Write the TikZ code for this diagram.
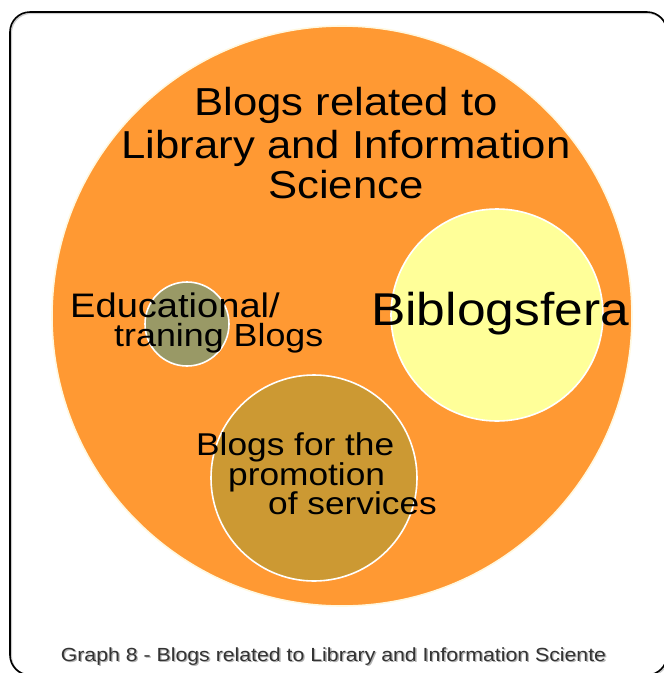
\documentclass[tikz,border=0pt]{standalone}
\usepackage{fontspec}
\setmainfont{Liberation Sans}[FakeStretch=1.12]
\usepackage{tikz}

\definecolor{orangebg}{HTML}{FF9933}
\definecolor{yellowbg}{HTML}{FFFF99}
\definecolor{olivebg}{HTML}{999966}
\definecolor{ochrebg}{HTML}{CC9933}
\definecolor{creamline}{HTML}{FFF8E0}

\tikzset{
  bubble/.style={circle, inner sep=0pt, draw=white, line width=1.6pt},
  lbl/.style={inner sep=0pt, text=black},
}

\begin{document}
\begin{tikzpicture}[x=1pt,y=-1pt]

  \useasboundingbox (0,0) rectangle (664,673);

  % frame
  \draw[gray!40, line width=2pt, rounded corners=20pt] (11,13) rectangle (668,676);
  \draw[black, line width=1.6pt, rounded corners=20pt] (10,12) rectangle (667,675);

  % circles
  \node[bubble, draw=creamline, fill=orangebg, minimum size=580pt] (lis) at (342,316) {};
  \node[bubble, fill=yellowbg, minimum size=212pt] (bib) at (497,315) {};
  \node[bubble, fill=olivebg, minimum size=84pt] (edu) at (187,324) {};
  \node[bubble, fill=ochrebg, minimum size=206pt] (prom) at (314,478) {};

  % labels
  \node[lbl, anchor=base, font=\fontsize{39}{42}\selectfont] (lisa) at (346,115) {Blogs related to};
  \node[lbl, anchor=base, font=\fontsize{39}{42}\selectfont] (lisb) at (346,158) {Library and Information};
  \node[lbl, anchor=base, font=\fontsize{39}{42}\selectfont] (lisc) at (346,198) {Science};

  \node[lbl, anchor=base, font=\fontsize{46}{50}\selectfont] (bibl) at (500,325) {Biblogsfera};

  \node[lbl, anchor=base west, text depth=0pt, font=\fontsize{34}{36}\selectfont] (edua) at (70,317) {Educational/};
  \node[lbl, anchor=base west, font=\fontsize{32}{36}\selectfont] (edub) at (114,346) {traning Blogs};

  \node[lbl, anchor=base west, font=\fontsize{31.5}{34}\selectfont] (proma) at (196,455) {Blogs for the};
  \node[lbl, anchor=base west, font=\fontsize{31.5}{34}\selectfont] (promb) at (228,485) {promotion};
  \node[lbl, anchor=base west, font=\fontsize{31.5}{34}\selectfont] (promc) at (268,514) {of services};

  % caption
  \node[lbl, anchor=base, text=gray!60, font=\fontsize{19}{22}\selectfont] (capsh) at (334.8,662.3) {Graph 8 - Blogs related to Library and Information Sciente};
  \node[lbl, anchor=base, text=black!80, font=\fontsize{19}{22}\selectfont] (cap) at (333.5,661) {Graph 8 - Blogs related to Library and Information Sciente};

\end{tikzpicture}
\end{document}
